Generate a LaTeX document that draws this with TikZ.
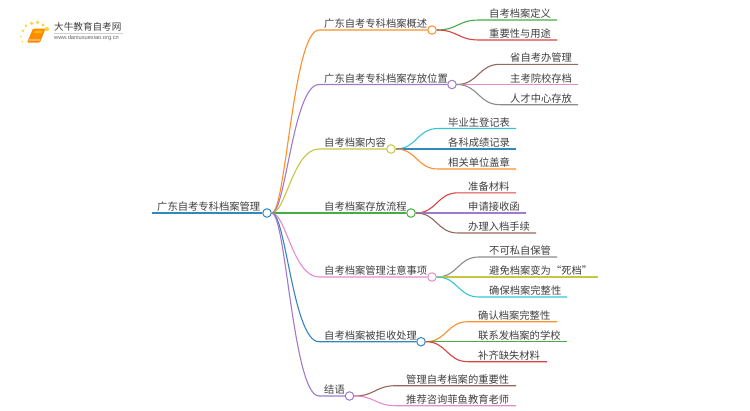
\documentclass[tikz,border=0pt]{standalone}
\usepackage{fontspec}
\usetikzlibrary{calc}
\setmainfont{Noto Sans CJK SC}
\newfontfamily\urlfont{Liberation Sans}
\definecolor{cblue}{HTML}{3486BE}
\definecolor{corange}{HTML}{FF8E2B}
\definecolor{cgreen}{HTML}{45AD45}
\definecolor{cred}{HTML}{DB4243}
\definecolor{cpurple}{HTML}{A07ACB}
\definecolor{cbrown}{HTML}{97675D}
\definecolor{cpink}{HTML}{E78BCB}
\definecolor{cgray}{HTML}{8C8C8C}
\definecolor{cyellow}{HTML}{C6C73F}
\definecolor{ccyan}{HTML}{33C7D6}
\definecolor{txtcol}{HTML}{404040}
\tikzset{
  flow/.style={to path={let \p1=(\tikztostart),\p2=(\tikztotarget),\n1={0.5*(\x2-\x1)} in
    .. controls (\x1+\n1,\y1) and (\x2-\n1,\y2) .. (\tikztotarget)}},
  flowbig/.style={to path={let \p1=(\tikztostart),\p2=(\tikztotarget),\n1={0.3*(\x2-\x1)},\n2={0.55*(\x2-\x1)} in
    .. controls (\x1+\n1,\y1) and (\x2-\n2,\y2) .. (\tikztotarget)}},
  hub/.style={circle,draw=#1,fill=white,line width=1pt,minimum size=8.5pt,inner sep=0pt},
  edge line/.style={draw=#1,line width=1.1pt},
  lab/.style={anchor=south west,inner sep=0pt,text=txtcol,font=\fontsize{10.3}{12}\selectfont,yshift=1.3pt},
}
% colour, parent, name, text x, end x, y, text
\newcommand{\kidline}[7]{%
  \coordinate (#3k) at (#4-10,#6);
  \coordinate (#3e) at (#5,#6);
  \draw[edge line=#1] (#2.east) to[flow] (#3k) -- (#3e);
  \node[lab] (#3t) at (#4,#6) {#7};
}
% colour, name, text x, circle x, y, text
\newcommand{\branchline}[6]{%
  \node[hub=#1] (#2) at (#4,#5) {};
  \coordinate (#2k) at (#3-5,#5);
  \draw[edge line=#1] (root.east) to[flowbig] (#2k) -- (#2.west);
  \node[lab] (#2t) at (#3,#5) {#6};
}
\begin{document}
\begin{tikzpicture}[x=1pt,y=-1pt]
\useasboundingbox[fill=white] (0,0) rectangle (750,410);
% logo
\fill[orange!90!yellow,rounded corners=1pt] (33,28.5) -- (45.5,28.5) -- (40,42.5) -- (27,42.5) -- cycle;
\fill[orange!55!yellow] (35,30.5) -- (42.5,30.5) -- (41.5,33) -- (34,33) -- cycle;
\fill[orange!40!white] (29,39.3) -- (40.5,39.3) -- (40,40.6) -- (28.5,40.6) -- cycle;
\foreach \px/\py/\pr in {26/25.7/1.4,31.7/23.3/1.8,37.7/22.3/1.8,43/25/1.7,47/29/2.1,23/30.7/1.3,21/36.7/1,22.3/41.7/.9}
  \fill[yellow!60!orange!75] (\px,\py) circle (\pr);
\node[anchor=west,inner sep=0pt,text=black!75,font=\fontsize{9.6}{11}\selectfont] (logot) at (54,27) {大牛教育自考网};
\draw[black!18,line width=.5pt] (54,33) -- (123,33);
\node[anchor=west,inner sep=0pt,text=black!60,font=\urlfont\fontsize{5.7}{7}\selectfont] (logou) at (54,38.5) {www.daniuxuexiao.org.cn};
% root
\node[hub=cblue] (root) at (267,213) {};
\coordinate (roots) at (152,213);
\draw[edge line=cblue,line width=1.5pt] (roots) -- (root.west);
\node[lab] (roott) at (157,213) {广东自考专科档案管理};
% branches
\branchline{corange}{a}{324}{432}{30}{广东自考专科档案概述}
\branchline{cpurple}{b}{324}{452}{84.5}{广东自考专科档案存放位置}
\branchline{cyellow}{c}{324}{391}{149}{自考档案内容}
\branchline{cgreen}{d}{324}{411}{213}{自考档案存放流程}
\branchline{cpink}{e}{324}{432}{277}{自考档案管理注意事项}
\branchline{cblue}{f}{324}{421}{341.7}{自考档案被拒收处理}
\branchline{cpurple}{g}{324}{349.5}{396}{结语}
% children
\kidline{cgreen}{a}{a1}{489}{557}{20}{自考档案定义}
\kidline{cred}{a}{a2}{489}{557}{40}{重要性与用途}
\kidline{cbrown}{b}{b1}{510}{578}{64.3}{省自考办管理}
\kidline{cpink}{b}{b2}{510}{578}{84.5}{主考院校存档}
\kidline{cgray}{b}{b3}{510}{578}{104.7}{人才中心存放}
\kidline{ccyan}{c}{c1}{448}{516}{128.5}{毕业生登记表}
\kidline{cblue}{c}{c2}{448}{516}{149}{各科成绩记录}
\kidline{corange}{c}{c3}{448}{516}{169}{相关单位盖章}
\kidline{cred}{d}{d1}{468}{516}{192.8}{准备材料}
\kidline{cpurple}{d}{d2}{468}{526}{213}{申请接收函}
\kidline{cbrown}{d}{d3}{468}{536}{233}{办理入档手续}
\kidline{cgray}{e}{e1}{489}{557}{257}{不可私自保管}
\kidline{cyellow}{e}{e2}{489}{598}{277}{避免档案变为“死档”}
\kidline{ccyan}{e}{e3}{489}{567}{297}{确保档案完整性}
\kidline{corange}{f}{f1}{478}{557}{321.7}{确认档案完整性}
\kidline{cgreen}{f}{f2}{478}{567}{341.7}{联系发档案的学校}
\kidline{cred}{f}{f3}{478}{547}{361.7}{补齐缺失材料}
\kidline{cbrown}{g}{g1}{406}{516}{385.7}{管理自考档案的重要性}
\kidline{cpink}{g}{g2}{406}{516}{405.7}{推荐咨询菲鱼教育老师}
\end{tikzpicture}
\end{document}
